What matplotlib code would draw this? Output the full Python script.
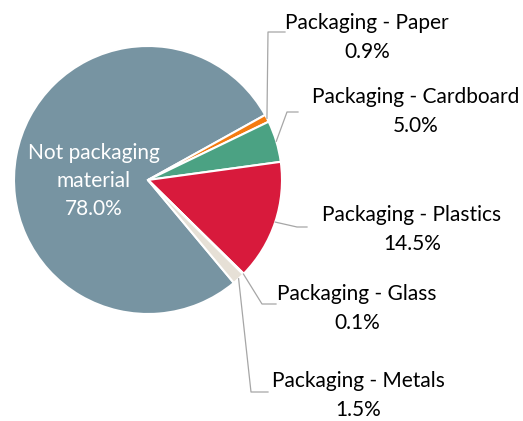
import numpy as np
import matplotlib
matplotlib.use('Agg')
import matplotlib.pyplot as plt

# %% data
labels = ['Not packaging\nmaterial', 'Packaging - Paper', 'Packaging - Cardboard',
          'Packaging - Plastics', 'Packaging - Glass', 'Packaging - Metals']
shares = [78.0, 0.9, 5.0, 14.5, 0.1, 1.5]
colors = ['#7794A2', '#F47B10', '#4BA283', '#D81A3C', '#D9D2C6', '#E6E0D6']

# layout in pixel coords (y up): label first-line centre, elbow of leader line
lab_pos = {1: (367, 398), 2: (416, 324), 3: (412, 206), 4: (357, 127), 5: (358, 40)}
elbow = {1: (268, 389), 2: (287, 309), 3: (297, 194), 4: (262, 117), 5: (251, 29)}
hook = {1: 285, 2: 298, 3: 307, 4: 276, 5: 268}

W, H = 523, 421
cx, cy, r = 148, 241, 134
fs = 15

plt.rcParams['font.family'] = ['Lato', 'DejaVu Sans']
fig = plt.figure(figsize=(W / 100, H / 100), dpi=100)
ax = fig.add_axes([0, 0, 1, 1])

wedges, _ = ax.pie(shares, colors=colors, startangle=-50.16, counterclock=False,
                   center=(cx, cy), radius=r,
                   wedgeprops=dict(edgecolor='white', linewidth=1.5))
ax.set_xlim(0, W)
ax.set_ylim(0, H)
ax.set_aspect('equal')
ax.axis('off')

# inner label for the big slice
ax.text(94, 240, f'{labels[0]}\n{shares[0]:.1f}%', color='white', ha='center',
        va='center', fontsize=fs, linespacing=1.5)

for i in range(1, len(shares)):
    w = wedges[i]
    ang = np.deg2rad((w.theta1 + w.theta2) / 2)
    sx, sy = cx + r * np.cos(ang), cy + r * np.sin(ang)
    ex, ey = elbow[i]
    ax.plot([sx, ex, hook[i]], [sy, ey, ey], color='#A6A6A6', lw=0.9)
    lx, ly = lab_pos[i]
    ax.text(lx, ly, labels[i], ha='center', va='center', fontsize=fs)
    ax.text(lx, ly - 29, f'{shares[i]:.1f}%', ha='center', va='center', fontsize=fs)

fig.savefig('out.png', dpi=100)
